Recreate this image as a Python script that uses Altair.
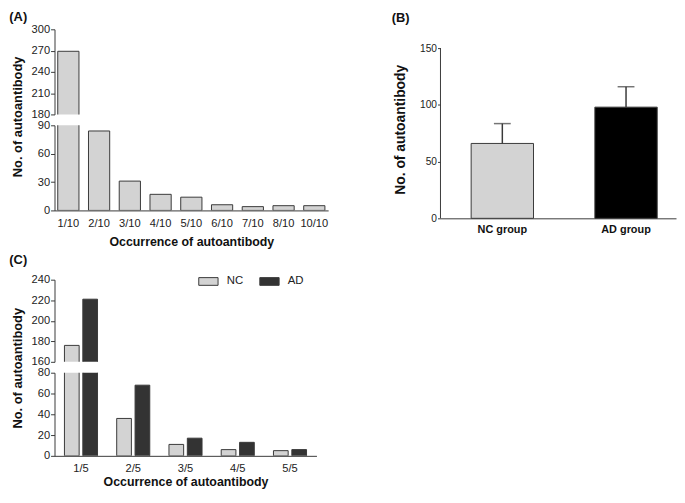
import altair as alt
import pandas as pd

# ---------------- data ----------------
a_cats = ["1/10", "2/10", "3/10", "4/10", "5/10", "6/10", "7/10", "8/10", "10/10"]
a_vals = [269, 84, 31, 17, 14, 6, 4, 5, 5]

b_groups = ["NC group", "AD group"]
b_means = [66, 98]
b_upper = [83.5, 116]

c_cats = ["1/5", "2/5", "3/5", "4/5", "5/5"]
c_series = ["NC", "AD"]
c_nc = [176, 36, 11, 6, 5]
c_ad = [221, 68, 17, 13, 6]

a_ticks_top = [180, 210, 240, 270, 300]
a_ticks_bot = [0, 30, 60, 90]
b_ticks = [0, 50, 100, 150]
c_ticks_top = [160, 180, 200, 220, 240]
c_ticks_bot = [0, 20, 40, 60, 80]

# ---------------- style ----------------
FONT = "Liberation Sans"
GREY = "#d3d3d3"
EDGE = "#3a3a3a"
YTITLE = "No. of autoantibody"
XTITLE = "Occurrence of autoantibody"

df_a = pd.DataFrame({"cat": a_cats, "val": a_vals})
df_b = pd.DataFrame({"grp": b_groups, "mean": b_means, "upper": b_upper})
df_c = pd.DataFrame({
    "cat": c_cats + c_cats,
    "grp": [c_series[0]] * len(c_cats) + [c_series[1]] * len(c_cats),
    "val": c_nc + c_ad,
})
df_axis = pd.DataFrame({"lo": [b_ticks[0]], "hi": [b_ticks[-1]]})


def yaxis(values, title=None, titleY=None, titlePadding=7, labelSize=11.2, titleSize=13, tick=4):
    kw = dict(values=values, grid=False, tickSize=tick, labelPadding=1,
              labelFontSize=labelSize, labelColor="#222", domainColor=EDGE,
              tickColor=EDGE, labelFont=FONT)
    if title is not None:
        kw.update(title=title, titleFontSize=titleSize, titleFontWeight="bold",
                  titleFont=FONT, titleColor="#111", titlePadding=titlePadding,
                  titleY=titleY)
    else:
        kw.update(title=None)
    return alt.Axis(**kw)


def xaxis(title, titlePadding):
    return alt.Axis(title=title, labelAngle=0, ticks=False, labelPadding=7,
                    labelFontSize=11.2, labelColor="#222", domainColor=EDGE,
                    titleFontSize=12.5, titleFontWeight="bold", titleFont=FONT,
                    titleColor="#111", titlePadding=titlePadding, labelFont=FONT)


def panel_title(txt, offset, dx=-2):
    return alt.TitleParams(txt, anchor="start", dx=dx, offset=offset, fontSize=13,
                           fontWeight="bold", font=FONT, color="#111")


# ---------------- panel A ----------------
xsA = alt.Scale(domain=a_cats, paddingInner=0.31, paddingOuter=0.105)
a_top = alt.Chart(df_a).mark_bar(clip=True, fill=GREY, stroke=EDGE, strokeWidth=1).encode(
    x=alt.X("cat:N", sort=a_cats, scale=xsA, axis=None),
    y=alt.Y("val:Q", scale=alt.Scale(domain=[180, 300], nice=False, zero=False),
            axis=yaxis(a_ticks_top, YTITLE, titleY=88, titlePadding=7)),
).properties(width=276.5, height=86, title=panel_title("(A)", -1))

a_bot = alt.Chart(df_a).mark_bar(clip=True, fill=GREY, stroke=EDGE, strokeWidth=1).encode(
    x=alt.X("cat:N", sort=a_cats, scale=xsA, axis=xaxis(XTITLE, 7)),
    y=alt.Y("val:Q", scale=alt.Scale(domain=[0, 90], nice=False),
            axis=yaxis(a_ticks_bot)),
).properties(width=276.5, height=86)

spacer = alt.Chart(df_axis).mark_point(opacity=0).encode(
    x=alt.value(0), y=alt.value(0)
).properties(width=276.5, height=48)

# ---------------- panel C ----------------
xsC = alt.Scale(domain=c_cats, paddingInner=0.367, paddingOuter=0.19)
xoC = alt.XOffset("grp:N", sort=c_series, scale=alt.Scale(domain=c_series, paddingInner=0.2))
c_color_legend = alt.Legend(
    orient="none", legendX=145, legendY=-9, direction="horizontal", title=None,
    symbolType="M-1,-0.4H1V0.4H-1Z", symbolSize=380, symbolStrokeColor=EDGE,
    symbolStrokeWidth=1, symbolOpacity=1, labelFontSize=11.5, labelOffset=8,
    columnPadding=13.7, padding=0, labelFont=FONT, labelColor="#222",
)
c_top = alt.Chart(df_c).mark_bar(clip=True, stroke=EDGE, strokeWidth=1).encode(
    x=alt.X("cat:N", sort=c_cats, scale=xsC, axis=None),
    xOffset=xoC,
    y=alt.Y("val:Q", scale=alt.Scale(domain=[160, 240], nice=False, zero=False),
            axis=yaxis(c_ticks_top, YTITLE, titleY=89, titlePadding=7)),
    color=alt.Color("grp:N", sort=c_series,
                    scale=alt.Scale(domain=c_series, range=[GREY, "#333333"]),
                    legend=c_color_legend),
).properties(width=264.7, height=83, title=panel_title("(C)", 4))

c_bot = alt.Chart(df_c).mark_bar(clip=True, stroke=EDGE, strokeWidth=1).encode(
    x=alt.X("cat:N", sort=c_cats, scale=xsC, axis=xaxis(XTITLE, 2)),
    xOffset=xoC,
    y=alt.Y("val:Q", scale=alt.Scale(domain=[0, 80], nice=False),
            axis=yaxis(c_ticks_bot)),
    color=alt.Color("grp:N", sort=c_series,
                    scale=alt.Scale(domain=c_series, range=[GREY, "#333333"]),
                    legend=None),
).properties(width=264.7, height=84)

left = alt.vconcat(a_top, a_bot, spacer, c_top, c_bot, spacing=11, bounds="flush").resolve_scale(
    color="independent", x="independent", y="independent")

# ---------------- panel B ----------------
xsB = alt.Scale(domain=b_groups, paddingInner=0.496, paddingOuter=0.2, align=0.62)
b_x = alt.X("grp:N", sort=b_groups, scale=xsB,
            axis=alt.Axis(title=None, labelAngle=0, ticks=False, labelPadding=5.5,
                          labelFontSize=11, labelFontWeight="bold", labelColor="#111",
                          domainColor=EDGE, labelFont=FONT))
ysB = alt.Scale(domain=[0, 166.6], nice=False)
b_bars = alt.Chart(df_b).mark_bar(stroke=EDGE, strokeWidth=1).encode(
    x=b_x,
    y=alt.Y("mean:Q", scale=ysB,
            axis=alt.Axis(values=b_ticks, domain=False, grid=False, tickSize=3,
                          labelPadding=1, labelFontSize=10.3, labelColor="#222",
                          tickColor=EDGE, title=YTITLE, titleFontSize=14,
                          titleFontWeight="bold", titleFont=FONT, titleColor="#111",
                          titlePadding=12, titleY=101, labelFont=FONT)),
    color=alt.Color("grp:N", scale=alt.Scale(domain=b_groups, range=[GREY, "#000000"]),
                    legend=None),
)
b_err = alt.Chart(df_b).mark_rule(color=EDGE, strokeWidth=1.5).encode(
    x=b_x, y=alt.Y("mean:Q", scale=ysB), y2="upper:Q")
b_cap = alt.Chart(df_b).mark_tick(color=EDGE, thickness=1.5, size=17).encode(
    x=b_x, y=alt.Y("upper:Q", scale=ysB))
b_line = alt.Chart(df_axis).mark_rule(color=EDGE, strokeWidth=1).encode(
    x=alt.value(0), y=alt.Y("lo:Q", scale=ysB), y2="hi:Q")

panel_b = alt.layer(b_bars, b_err, b_cap, b_line).properties(
    width=238, height=191, title=panel_title("(B)", 4))

chart = alt.hconcat(left, panel_b, spacing=63).resolve_scale(
    color="independent", x="independent", y="independent"
).properties(padding=0).configure(
    font=FONT, view=alt.ViewConfig(stroke="transparent"))

chart.save("out.html", embed_options={"renderer": "svg", "actions": False})
